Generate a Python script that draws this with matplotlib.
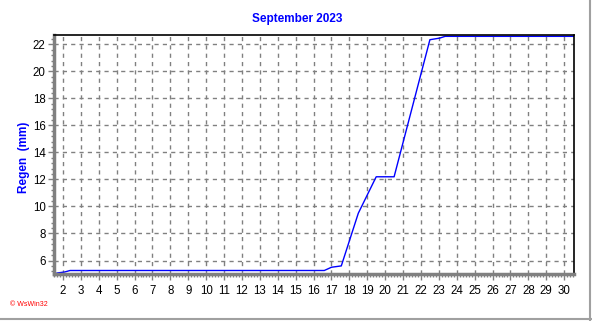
import matplotlib
matplotlib.use('Agg')
import matplotlib.pyplot as plt
from matplotlib.ticker import MultipleLocator, AutoMinorLocator
from matplotlib.lines import Line2D

plt.rcParams['font.family'] = ['Liberation Sans', 'DejaVu Sans']

# cumulative rain, day of month (fractional) vs mm
days = [1.5, 1.7, 2.1, 2.4, 16.6, 17.0, 17.55, 18.5, 19.5, 20.5, 22.5, 23.05, 23.35, 30.55]
rain = [5.0, 5.08, 5.15, 5.26, 5.26, 5.5, 5.6, 9.5, 12.2, 12.2, 22.35, 22.47, 22.6, 22.6]

fig = plt.figure(figsize=(5.92, 3.21), dpi=100)
ax = fig.add_axes([0.0912, 0.1464, 0.9696 - 0.0912, 0.891 - 0.1464])

ax.plot(days, rain, color='#0000ff', linewidth=1.0)

ax.set_xlim(1.5, 30.55)
ax.set_ylim(5.0, 22.7)
ax.xaxis.set_major_locator(MultipleLocator(1))
ax.xaxis.set_minor_locator(AutoMinorLocator(6))
ax.yaxis.set_major_locator(MultipleLocator(2))
ax.yaxis.set_minor_locator(AutoMinorLocator(5))
ax.set_xticks(range(2, 31))

ax.grid(True, which='major', color='#808080', linestyle=(0, (3, 3)), linewidth=1.0)

for s in ['left', 'bottom']:
    ax.spines[s].set_color('#808080')
    ax.spines[s].set_linewidth(2.5)
for s in ['top', 'right']:
    ax.spines[s].set_color('black')
    ax.spines[s].set_linewidth(1.2)

ax.tick_params(which='major', length=4, width=1, color='#808080', labelsize=8.3)
ax.tick_params(axis='x', which='major', pad=4)
ax.tick_params(axis='y', which='major', pad=2)
ax.tick_params(which='minor', length=2, width=1, color='#808080')

fig.text(0.502, 0.94, 'September 2023', color='#0000ff', fontsize=8.5,
         fontweight='bold', ha='center', va='center')
fig.text(0.040, 0.51, 'Regen  (mm)', color='#0000ff', fontsize=8.5,
         fontweight='bold', ha='center', va='center', rotation=90)
fig.text(0.017, 0.052, '© WsWin32', color='#ff0000', fontsize=5,
         ha='left', va='center')

# figure border on right and bottom
fig.add_artist(Line2D([0.997, 0.997], [0.0, 1.0], transform=fig.transFigure,
                      color='#a0a0a0', linewidth=1.5))
fig.add_artist(Line2D([0.0, 1.0], [0.007, 0.007], transform=fig.transFigure,
                      color='#a0a0a0', linewidth=1.5))

fig.savefig('out.png', dpi=100)
